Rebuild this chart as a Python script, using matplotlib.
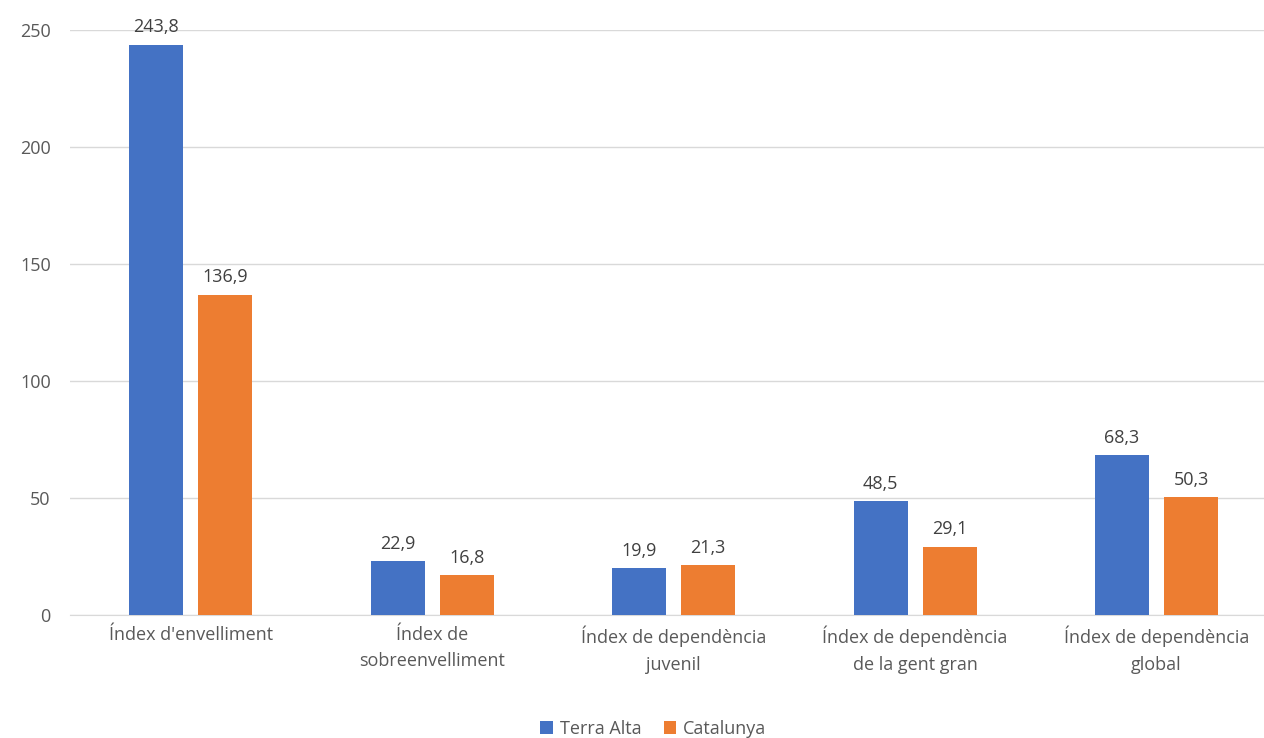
import matplotlib
matplotlib.use("Agg")
import matplotlib.pyplot as plt
import numpy as np

categories = ["Índex d'envelliment", "Índex de\nsobreenvelliment", "Índex de dependència\njuvenil",
              "Índex de dependència\nde la gent gran", "Índex de dependència\nglobal"]
terra_alta = [243.8, 22.9, 19.9, 48.5, 68.3]
catalunya = [136.9, 16.8, 21.3, 29.1, 50.3]
yticks = [0, 50, 100, 150, 200, 250]

plt.rcParams['font.family'] = ['Open Sans', 'DejaVu Sans']
fig = plt.figure(figsize=(12.64, 7.38), dpi=100)
ax = fig.add_axes([0.0555, 0.167, 0.955, 0.792])
x = np.arange(len(categories))
w = 0.224
off = 0.143
b1 = ax.bar(x - off, terra_alta, w, color='#4472C4', label='Terra Alta', zorder=3)
b2 = ax.bar(x + off, catalunya, w, color='#ED7D31', label='Catalunya', zorder=3)
fmt = lambda v: f"{v:.1f}".replace('.', ',')
for bars, vals in ((b1, terra_alta), (b2, catalunya)):
    for r, v in zip(bars, vals):
        ax.annotate(fmt(v), (r.get_x() + r.get_width() / 2, v), xytext=(0, 6),
                    textcoords='offset points', ha='center', va='bottom', fontsize=13, color='#404040')
ax.set_ylim(0, 250)
ax.set_xlim(-0.5, len(categories) - 0.5)
ax.set_yticks(yticks)
ax.set_xticks(x)
ax.set_xticklabels(categories, fontsize=13, color='#595959', linespacing=1.6)
ax.tick_params(axis='y', labelsize=13, labelcolor='#595959', length=0, pad=14)
ax.tick_params(axis='x', length=0, pad=8)
ax.grid(axis='y', color='#d9d9d9', linewidth=1, zorder=0)
for s in ['top', 'right', 'left']:
    ax.spines[s].set_visible(False)
ax.spines['bottom'].set_color('#d9d9d9')
fig.legend(loc='lower center', bbox_to_anchor=(0.517, -0.022), ncol=2, frameon=False,
           fontsize=13, handlelength=0.7, handleheight=0.7, columnspacing=1.2, handletextpad=0.4,
           labelcolor='#595959')
fig.savefig('out.png', dpi=100)
